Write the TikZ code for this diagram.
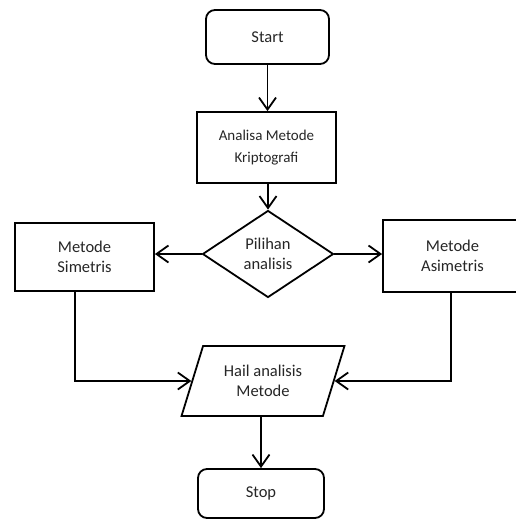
\documentclass[tikz,border=0pt]{standalone}
\usepackage{fontspec}
\setmainfont{Carlito}
\usetikzlibrary{shapes.geometric,arrows.meta}

\begin{document}
\begin{tikzpicture}[x=1pt,y=-1pt,line width=1.8pt,
        every node/.style={text=black!85,align=center,font=\fontsize{16.5}{20}\selectfont},
        term/.style={draw,rounded corners=9pt,minimum width=123pt},
        proc/.style={draw,minimum width=139pt},
        pilih/.style={draw,diamond,aspect=1.5,inner sep=0pt,minimum width=131pt,minimum height=87pt},
        hasilbox/.style={draw,trapezium,trapezium left angle=66,trapezium right angle=114,
            trapezium stretches=true,minimum width=163pt,minimum height=70pt,inner sep=0pt},
        arr/.style={-{Straight Barb[length=12pt,width=17pt]}}]
        \useasboundingbox (0,0) rectangle (516,520);
        \clip (0,0) rectangle (516,520);
        \node[term,minimum height=54pt] (start) at (267.5,37) {Start};
        \node[proc,minimum height=71pt,font=\fontsize{15}{22}\selectfont] (analisa) at (266.5,147.5) {Analisa Metode\\Kriptografi};
        \node[pilih] (pilihan) at (268,254) {Pilihan\\analisis};
        \node[proc,minimum height=68pt] (simetris) at (84.5,257) {Metode\\Simetris};
        \node[proc,minimum height=72pt] (asimetris) at (452.5,256) {Metode\\Asimetris};
        \node[hasilbox] (hasil) at (263,381) {Hail analisis\\Metode};
        \node[term,minimum width=126pt,minimum height=49pt] (stop) at (261,493.5) {Stop};
        \coordinate (kiri) at (75,0);
        \coordinate (kanan) at (451,0);
        \draw[arr] (start.south) -- (start.south |- analisa.north);
        \draw[arr] (analisa.south -| pilihan.north) -- (pilihan.north);
        \draw[arr] (pilihan.west) -- (pilihan.west -| simetris.east);
        \draw[arr] (pilihan.east) -- (pilihan.east -| asimetris.west);
        \draw[arr] (simetris.south -| kiri) |- (hasil.west);
        \draw[arr] (asimetris.south -| kanan) |- (hasil.east);
        \draw[arr] (hasil.south -| stop.north) -- (stop.north);
    \end{tikzpicture}
\end{document}
